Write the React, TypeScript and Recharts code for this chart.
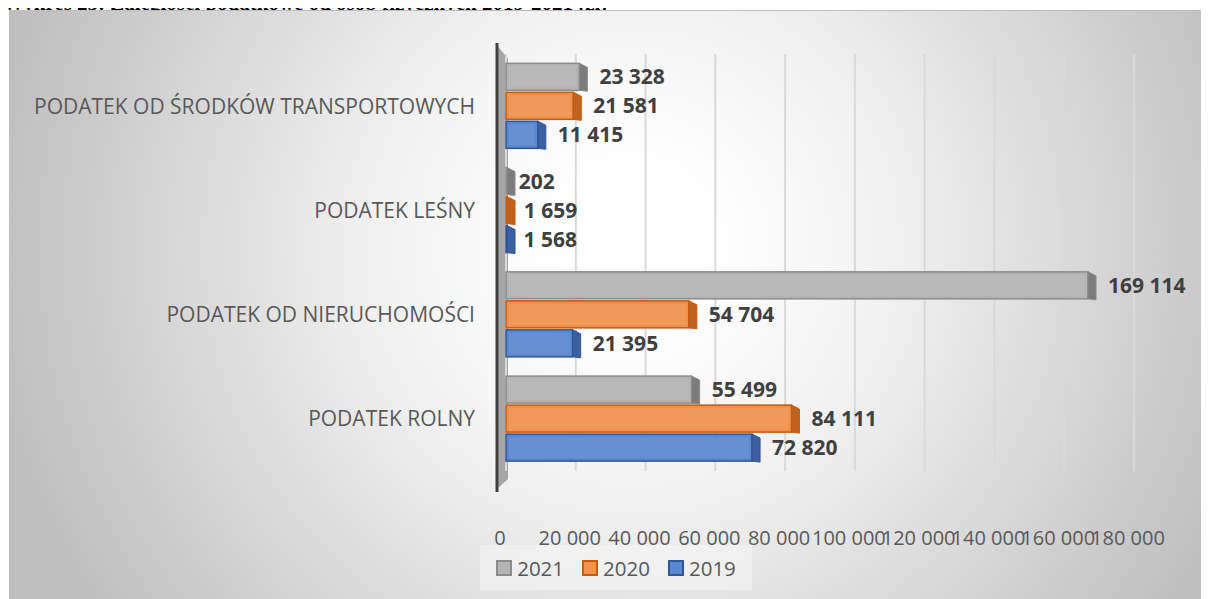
import React from 'react';
import {
    BarChart, Bar, XAxis, YAxis, CartesianGrid, Legend, LabelList
} from 'recharts';

const categories = [
    'PODATEK OD ŚRODKÓW TRANSPORTOWYCH',
    'PODATEK LEŚNY',
    'PODATEK OD NIERUCHOMOŚCI',
    'PODATEK ROLNY',
];
const values2021 = [23328, 202, 169114, 55499];
const values2020 = [21581, 1659, 54704, 84111];
const values2019 = [11415, 1568, 21395, 72820];
const xTicks = [0, 20000, 40000, 60000, 80000, 100000, 120000, 140000, 160000, 180000];

const series = [
    { key: 'y2021', name: '2021', fill: '#b4b4b4', edge: '#8c8c8c', side: '#7c7c7c' },
    { key: 'y2020', name: '2020', fill: '#f0914e', edge: '#c55a11', side: '#c0621f' },
    { key: 'y2019', name: '2019', fill: '#5b87d0', edge: '#2f5597', side: '#3b5f9f' },
];

const data = categories.map((name, i) => ({
    name,
    y2021: values2021[i],
    y2020: values2020[i],
    y2019: values2019[i],
}));

const FONT = '"Open Sans", sans-serif';

// spaces as thousands separator, also for 4 digit values
const formatNumber = (v: number) => String(v).replace(/\B(?=(\d{3})+(?!\d))/g, ' ');

// flat front face + darker end face, to mimic the 3d look of the original
const makeShape = (s: typeof series[number]) => (props: any) => {
    const { x, y, width, height } = props;
    const d = 8;
    const w = Math.max(width, 0);
    const front = Math.max(w - d, 1);
    return (
        <g>
            <rect x={x} y={y + 1} width={front} height={height - 2} fill={s.fill} stroke={s.edge} strokeWidth={1.5} />
            <rect x={x + 3} y={y + 4} width={Math.max(front - 6, 0)} height={height - 8} fill="rgba(255,255,255,0.08)" />
            <polygon
                points={`${x + front},${y + 1} ${x + front + d},${y + 5} ${x + front + d},${y + height} ${x + front},${y + height - 1}`}
                fill={s.side}
                stroke={s.edge}
                strokeWidth={1}
            />
        </g>
    );
};

const renderLegend = () => (
    <div style={{
        width: 272, height: 45, background: 'rgba(255,255,255,0.35)',
        display: 'flex', alignItems: 'center', justifyContent: 'center', gap: 18,
        fontFamily: FONT, fontSize: 20.5, color: '#595959'
    }}>
        {series.map(s => (
            <div key={s.key} style={{ display: 'flex', alignItems: 'center', gap: 5 }}>
                <span style={{ width: 12, height: 12, background: s.fill, border: `2px solid ${s.edge}`, display: 'inline-block' }} />
                <span>{s.name}</span>
            </div>
        ))}
    </div>
);

export default function App() {
    return (
        <div style={{ position: 'relative', width: 1209, height: 599, margin: '-8px 0 0 -8px', overflow: 'hidden', background: '#fff' }}>
            <div style={{
                position: 'absolute', left: 3, top: -9, whiteSpace: 'nowrap',
                fontFamily: '"Liberation Serif", serif', fontWeight: 'bold', fontSize: 21, color: '#000'
            }}>
                Wykres 23: Zaległości podatkowe od osób fizycznych 2019-2021 (zł)
            </div>
            <div style={{
                position: 'absolute', left: 9, top: 10, width: 1200, height: 590,
                borderTop: '1px solid #bdbdbd',
                background: 'radial-gradient(circle farthest-corner at 52% 40%, #ffffff 10%, #f2f2f2 35%, #bfbfbf 90%)'
            }}>
                {/* side wall of the 3d chart */}
                <svg width={1200} height={590} style={{ position: 'absolute', left: 0, top: 0 }}>
                    <polygon points="488,34 499,48 499,468 488,478" fill="#a6a6a6" />
                    <line x1={488} y1={32} x2={488} y2={481} stroke="#3f3f3f" strokeWidth={3} />
                </svg>
                <BarChart
                    width={1200}
                    height={589}
                    data={data}
                    layout="vertical"
                    margin={{ top: 43, right: 75, bottom: 0, left: 0 }}
                    barCategoryGap="8%"
                    barGap={0}
                    style={{ position: 'absolute', left: 0, top: 0 }}
                >
                    <CartesianGrid horizontal={false} stroke="#d9d9d9" strokeWidth={2} />
                    <XAxis
                        type="number"
                        domain={[0, 180000]}
                        ticks={xTicks}
                        interval={0}
                        tickFormatter={formatNumber}
                        axisLine={false}
                        tickLine={false}
                        tickSize={0}
                        tickMargin={60}
                        height={84}
                        tick={{ fill: '#595959', fontSize: 20, fontFamily: FONT, dx: -6 }}
                    />
                    <YAxis
                        type="category"
                        dataKey="name"
                        width={497}
                        axisLine={false}
                        tickLine={false}
                        tickSize={0}
                        tickMargin={31}
                        tick={{ fill: '#595959', fontSize: 21, fontFamily: FONT }}
                    />
                    <Legend
                        content={renderLegend}
                        wrapperStyle={{ left: 471, top: 534, width: 272, height: 45, bottom: 'auto' }}
                    />
                    {series.map(s => (
                        <Bar key={s.key} dataKey={s.key} name={s.name} fill={s.fill} shape={makeShape(s)} isAnimationActive={false}>
                            <LabelList
                                dataKey={s.key}
                                position="right"
                                offset={12}
                                formatter={(v: any) => formatNumber(Number(v))}
                                style={{ fill: '#404040', fontSize: 21, fontWeight: 'bold', fontFamily: FONT }}
                            />
                        </Bar>
                    ))}
                </BarChart>
            </div>
        </div>
    );
}
